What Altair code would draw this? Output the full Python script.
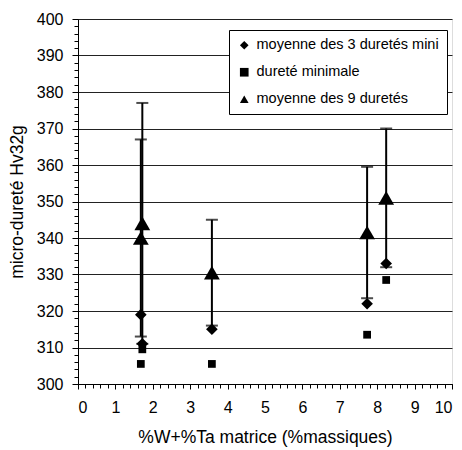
import altair as alt
import pandas as pd

# data
x_pos = [1.68, 1.72, 3.58, 7.73, 8.24]
moy3 = [319, 311, 315, 322, 333]
dmin = [305.5, 309.5, 305.5, 313.5, 328.5]
moy9 = [340, 344, 330.5, 341.5, 351]
err9 = [27, 33, 14.5, 18, 19]

series_names = ["moyenne des 3 duretés mini", "dureté minimale", "moyenne des 9 duretés"]
shapes = ["diamond", "square", "triangle-up"]
marker_sizes = [135, 60, 250]

rows = []
for name, vals in zip(series_names, [moy3, dmin, moy9]):
    for x, v in zip(x_pos, vals):
        rows.append({"x": x, "y": v, "serie": name})
pts = pd.DataFrame(rows)

err = pd.DataFrame({"x": x_pos, "lo": [m - e for m, e in zip(moy9, err9)],
                    "hi": [m + e for m, e in zip(moy9, err9)]})

FONT = "Liberation Sans"
xscale = alt.Scale(domain=[0, 10], nice=False, zero=False)
yscale = alt.Scale(domain=[300, 400], nice=False, zero=False)

xaxis = alt.Axis(title="%W+%Ta matrice (%massiques)", values=list(range(0, 11)), format="d",
                 grid=False, tickColor="black", tickSize=5, domainColor="black",
                 labelFont=FONT, labelFontSize=16, labelColor="black", labelPadding=10,
                 titleFont=FONT, titleFontSize=17.5, titleFontWeight="normal", titleColor="black",
                 titlePadding=13)
yaxis = alt.Axis(title="micro-dureté Hv32g", values=list(range(300, 401, 10)), format="d",
                 grid=True, gridColor="#222", gridWidth=1, tickColor="black", tickSize=6,
                 domainColor="black", labelFont=FONT, labelFontSize=16, labelColor="black",
                 labelPadding=9, titleFont=FONT, titleFontSize=17.5, titleFontWeight="normal",
                 titleColor="black", titlePadding=10)

shape_enc = alt.Shape("serie:N", scale=alt.Scale(domain=series_names, range=shapes),
                      legend=alt.Legend(title=None, orient="none", legendX=151, legendY=11,
                                        fillColor="white", strokeColor="black", padding=8,
                                        labelFont=FONT, labelFontSize=14.5, labelColor="black",
                                        symbolFillColor="black", symbolStrokeColor="black",
                                        symbolSize=75, rowPadding=11, labelLimit=300,
                                        labelOffset=5))

main = alt.Chart(pts).mark_point(opacity=0).encode(
    x=alt.X("x:Q", scale=xscale, axis=xaxis),
    y=alt.Y("y:Q", scale=yscale, axis=yaxis),
)

point_layers = []
for name, sz in zip(series_names, marker_sizes):
    point_layers.append(
        alt.Chart(pts).transform_filter(alt.datum.serie == name)
        .mark_point(filled=True, opacity=1, color="black", size=sz)
        .encode(x=alt.X("x:Q", scale=xscale, axis=None),
                y=alt.Y("y:Q", scale=yscale, axis=None),
                shape=shape_enc)
    )

rules = alt.Chart(err).mark_rule(color="black", strokeWidth=2).encode(
    x=alt.X("x:Q", scale=xscale, axis=None), y=alt.Y("lo:Q", scale=yscale, axis=None), y2="hi:Q")
cap_hi = alt.Chart(err).mark_tick(color="black", orient="horizontal", size=12, thickness=2).encode(
    x=alt.X("x:Q", scale=xscale, axis=None), y=alt.Y("hi:Q", scale=yscale, axis=None))
cap_lo = alt.Chart(err).mark_tick(color="black", orient="horizontal", size=12, thickness=2).encode(
    x=alt.X("x:Q", scale=xscale, axis=None), y=alt.Y("lo:Q", scale=yscale, axis=None))

minor = alt.Chart(pd.DataFrame({"x": [0], "y": [300]})).mark_point(opacity=0).encode(
    x=alt.X("x:Q", scale=xscale, axis=alt.Axis(values=[i / 5 for i in range(51)], labels=False,
                                                 grid=False, domain=False, tickSize=4,
                                                 tickColor="black", title=None, orient="bottom")),
    y=alt.Y("y:Q", scale=yscale, axis=alt.Axis(values=list(range(300, 401, 2)), labels=False,
                                                 grid=False, domain=False, tickSize=4,
                                                 tickColor="black", title=None, orient="left")),
)

chart = alt.layer(main, rules, cap_hi, cap_lo, *point_layers, minor).resolve_axis(
    x="independent", y="independent"
).properties(
    width=374, height=365,
    autosize=alt.AutoSizeParams(type="none"),
    padding={"left": 70, "top": 11, "right": 2, "bottom": 64},
).configure_view(stroke="black", strokeWidth=1).configure(background="white")

chart.save("out.html", embed_options={"renderer": "svg", "actions": False})
